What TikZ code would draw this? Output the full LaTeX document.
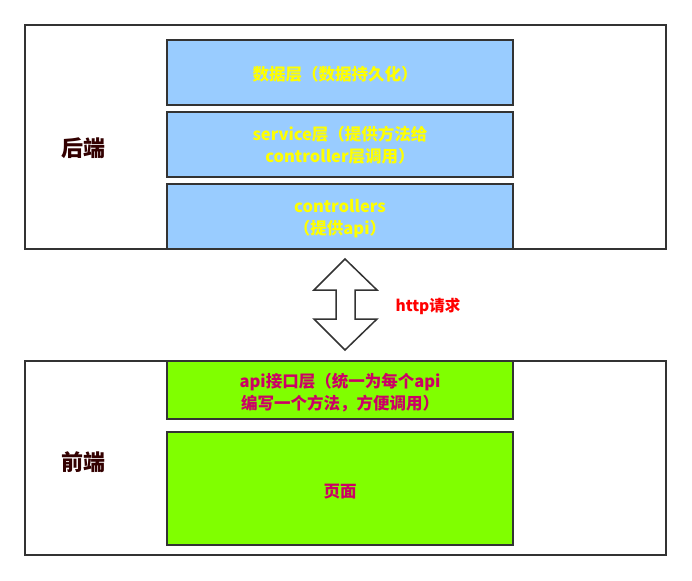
\documentclass[tikz,border=0pt]{standalone}
\usepackage{fontspec}
\newfontfamily\cjk{Noto Sans CJK SC}[BoldFont={Noto Sans CJK SC Black}]
\definecolor{bord}{HTML}{333333}
\definecolor{bluefill}{HTML}{99CCFF}
\definecolor{greenfill}{HTML}{80FF00}
\definecolor{ytext}{HTML}{FFFF00}
\definecolor{mtext}{HTML}{CC0066}
\definecolor{dtext}{HTML}{330000}
\begin{document}
\begin{tikzpicture}[x=1pt,y=-1pt,
  outerbox/.style={draw=bord,line width=2pt,fill=white},
  layerblue/.style={draw=bord,line width=2pt,fill=bluefill},
  layergreen/.style={draw=bord,line width=2pt,fill=greenfill},
  ylab/.style={text=ytext,font=\cjk\bfseries\fontsize{16.5}{22}\selectfont,align=center},
  mlab/.style={text=mtext,font=\cjk\bfseries\fontsize{16.5}{22}\selectfont,align=center},
  sidelab/.style={text=dtext,font=\cjk\bfseries\fontsize{22}{26}\selectfont}]
\useasboundingbox[fill=white] (0,0) rectangle (692,580);
% back end
\draw[outerbox] (25,25) rectangle (666,249);
\draw[layerblue] (167,40) rectangle (513,105);
\draw[layerblue] (167,112) rectangle (513,177);
\draw[layerblue] (167,184) rectangle (513,249);
\node[ylab] (b1) at (335,74) {数据层（数据持久化）};
\node[ylab] (b2) at (340,145) {service层（提供方法给\\controller层调用）};
\node[ylab] (b3) at (340,219) {controllers\\（提供api）};
\node[sidelab] (be) at (83,148) {后端};
% arrow
\draw[bord,line width=1.5pt,fill=white,line join=miter]
  (345,259) -- (377,290) -- (355,290) -- (355,319) -- (377,319) -- (345,350)
  -- (314,319) -- (336,319) -- (336,290) -- (314,290) -- cycle;
\node[text=red,font=\cjk\bfseries\fontsize{15.5}{18}\selectfont] (http) at (428,306) {http请求};
% front end
\draw[outerbox] (25,361) rectangle (666,555);
\draw[layergreen] (167,361) rectangle (513,419);
\draw[layergreen] (167,432) rectangle (513,545);
\node[mlab] (g1) at (340,393) {api接口层（统一为每个api\\编写一个方法，方便调用）};
\node[mlab] (g2) at (340,492) {页面};
\node[sidelab] (fe) at (83,462) {前端};
\end{tikzpicture}
\end{document}
